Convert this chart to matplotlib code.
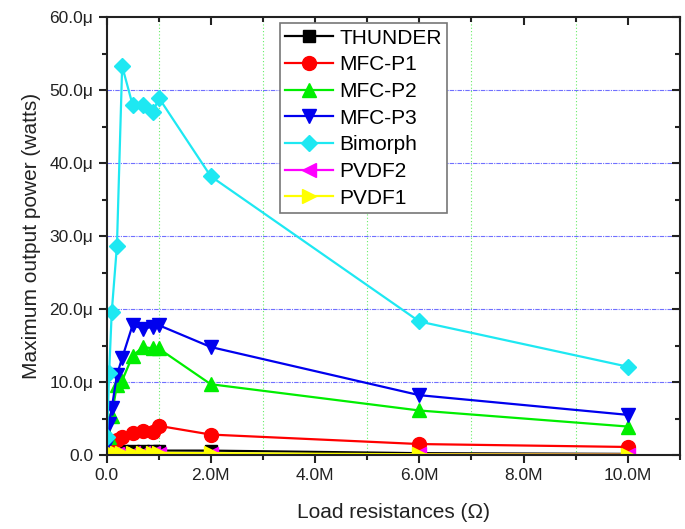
import matplotlib
matplotlib.use('Agg')
import matplotlib.pyplot as plt
from matplotlib.ticker import MultipleLocator, FuncFormatter

plt.rcParams['font.family'] = ['Liberation Sans', 'DejaVu Sans']

## data: load resistance (ohm) and max output power (watts, in micro)
load = [1e4, 5e4, 1e5, 2e5, 3e5, 5e5, 7e5, 9e5, 1e6, 2e6, 6e6, 1e7]

thunder = [0.1, 0.2, 0.3, 0.4, 0.5, 0.6, 0.6, 0.6, 0.6, 0.6, 0.25, 0.15]
mfc_p1 = [0.4, 1.2, 1.8, 2.1, 2.5, 3.0, 3.3, 3.2, 4.0, 2.8, 1.5, 1.1]
mfc_p2 = [0.8, 2.5, 5.4, 9.6, 10.2, 13.6, 14.8, 14.6, 14.6, 9.7, 6.1, 3.9]
mfc_p3 = [1.5, 4.3, 6.4, 11.0, 13.3, 17.8, 17.3, 17.6, 17.8, 14.8, 8.2, 5.5]
bimorph = [2.5, 11.2, 19.6, 28.7, 53.3, 48.0, 48.0, 47.0, 49.0, 38.2, 18.3, 12.1]
pvdf2 = [0.05, 0.1, 0.15, 0.2, 0.2, 0.25, 0.25, 0.25, 0.2, 0.1, 0.08, 0.05]
pvdf1 = [0.1, 0.2, 0.25, 0.3, 0.3, 0.3, 0.3, 0.3, 0.3, 0.25, 0.1, 0.05]

series = [
    ('THUNDER', thunder, 'black', 's', 9),
    ('MFC-P1', mfc_p1, 'red', 'o', 10),
    ('MFC-P2', mfc_p2, '#00ee00', '^', 10),
    ('MFC-P3', mfc_p3, '#0000ee', 'v', 10),
    ('Bimorph', bimorph, '#1ee8f2', 'D', 8.5),
    ('PVDF2', pvdf2, 'magenta', '<', 10),
    ('PVDF1', pvdf1, 'yellow', '>', 10),
]

fig = plt.figure(figsize=(6.85, 5.29), dpi=100)
ax = fig.add_axes([0.1555, 0.1399, 0.8372, 0.8274])

for name, vals, col, mk, ms in series:
    ax.plot(load, [v * 1e-6 for v in vals], color=col, marker=mk, markersize=ms,
            linewidth=1.6, label=name)

ax.set_xlim(0, 11e6)
ax.set_ylim(0, 60e-6)

ax.xaxis.set_major_locator(MultipleLocator(2e6))
ax.xaxis.set_minor_locator(MultipleLocator(1e6))
ax.yaxis.set_major_locator(MultipleLocator(10e-6))
ax.yaxis.set_minor_locator(MultipleLocator(5e-6))

ax.xaxis.set_major_formatter(FuncFormatter(lambda v, p: '0.0' if v == 0 else '%.1fM' % (v / 1e6)))
ax.yaxis.set_major_formatter(FuncFormatter(lambda v, p: '0.0' if abs(v) < 1e-12 else '%.1f\u03bc' % (v * 1e6)))

# grid: blue dash-dot horizontals at majors, green dotted verticals at odd M
for yv in [10e-6, 20e-6, 30e-6, 40e-6, 50e-6]:
    ax.axhline(yv, color='#7070ff', linestyle=(0, (4, 1, 1, 1)), linewidth=0.8, zorder=0)
for xv in [1e6, 3e6, 5e6, 7e6, 9e6]:
    ax.axvline(xv, color='#66ee66', linestyle=(0, (1, 2)), linewidth=0.8, zorder=0)

for sp in ax.spines.values():
    sp.set_linewidth(1.5)
    sp.set_color('#222222')

ax.tick_params(which='both', width=1.5, labelsize=12.5, colors='#222222')
ax.tick_params(which='major', length=6)
ax.tick_params(which='minor', length=3.5)
ax.tick_params(which='both', top=True, right=True, direction='out')
# top/right ticks point inward
for t in ax.xaxis.get_major_ticks() + ax.xaxis.get_minor_ticks():
    t.tick2line.set_marker(matplotlib.lines.TICKDOWN)
for t in ax.yaxis.get_major_ticks() + ax.yaxis.get_minor_ticks():
    t.tick2line.set_marker(matplotlib.lines.TICKLEFT)

ax.set_xlabel('Load resistances (\u03a9)', fontsize=15, labelpad=14, color='#222222')
ax.set_ylabel('Maximum output power (watts)', fontsize=15, labelpad=6, color='#222222')

leg = ax.legend(loc='upper left', bbox_to_anchor=(0.3025, 0.9863), borderaxespad=0,
                fontsize=15, numpoints=1, handlelength=2.3, labelspacing=0.37,
                borderpad=0.25, handletextpad=0.3, fancybox=False, framealpha=1)
leg.get_frame().set_edgecolor('#777777')
leg.get_frame().set_linewidth(1.2)

fig.savefig('out.png', dpi=100)
